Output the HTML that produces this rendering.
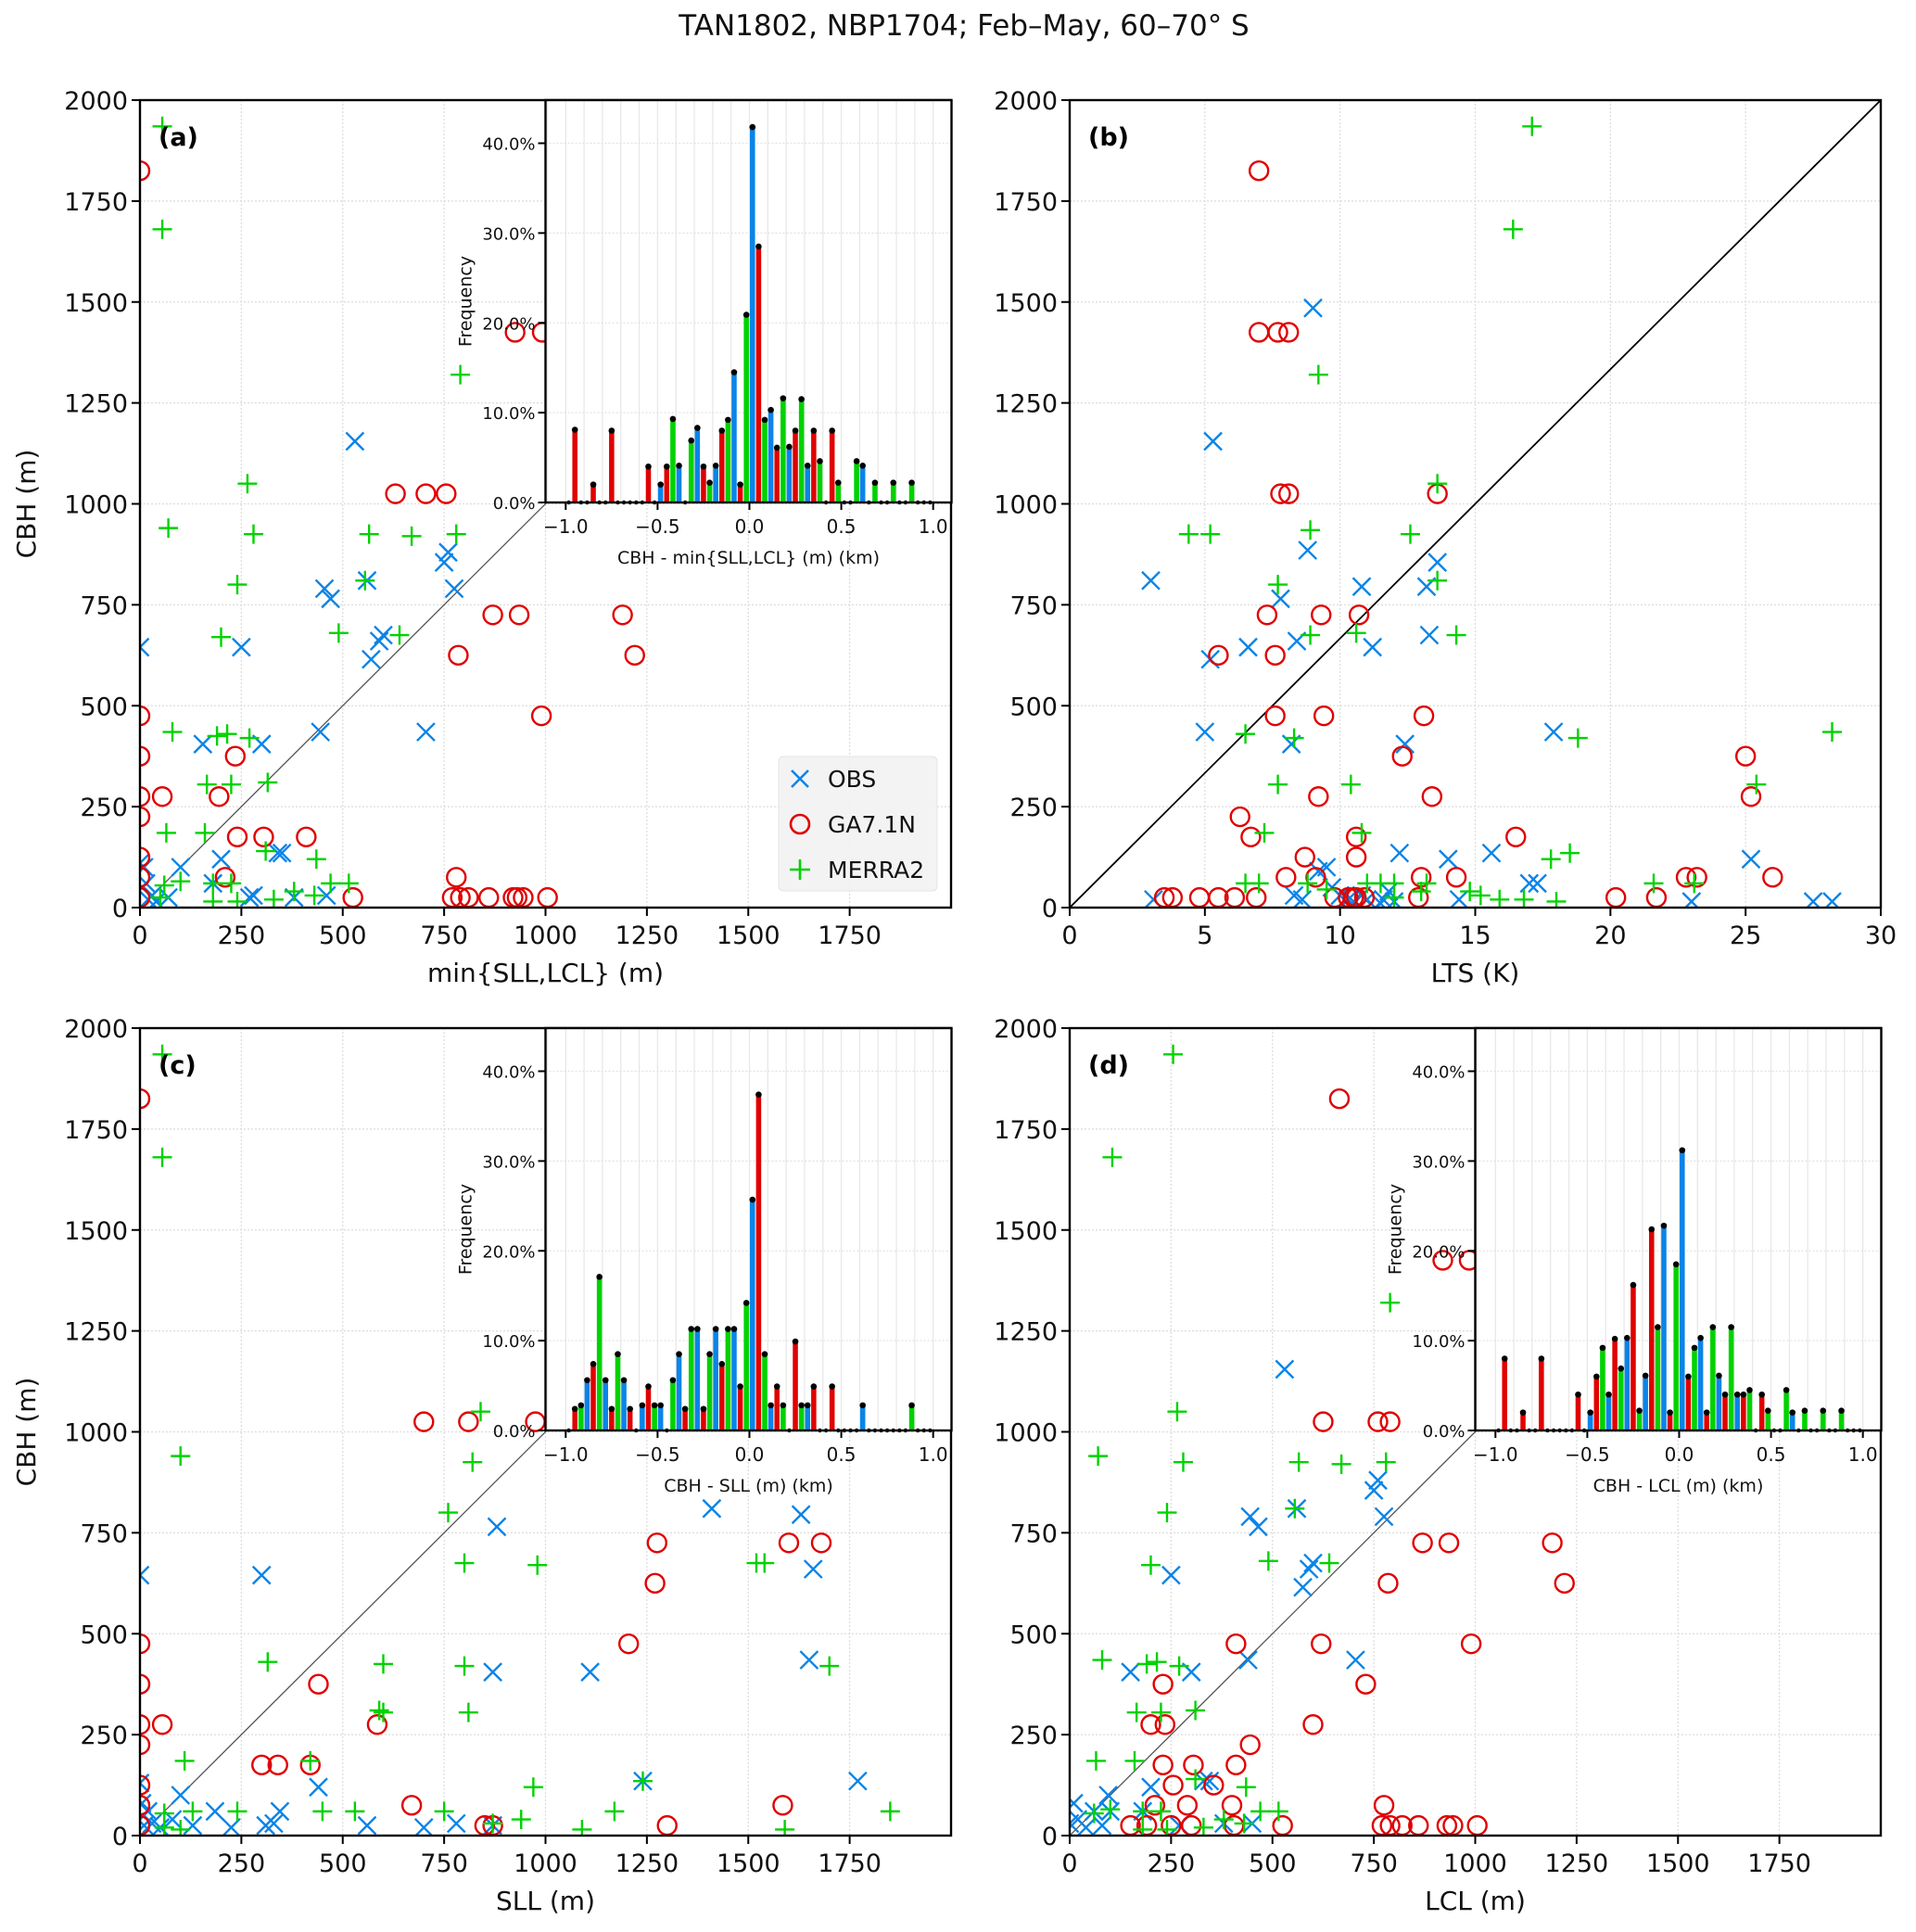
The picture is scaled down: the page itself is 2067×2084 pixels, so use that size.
<!DOCTYPE html>
<html><head><meta charset="utf-8"><style>
html,body{margin:0;padding:0;background:#fff;}
svg{display:block;font-family:"DejaVu Sans","Liberation Sans",sans-serif;}
</style></head><body>
<svg id="fig" width="2067" height="2084" viewBox="0 0 2067 2084" xmlns="http://www.w3.org/2000/svg">
<rect width="2067" height="2084" fill="#fff"/>
<text x="1040" y="38" font-size="31" text-anchor="middle" fill="#111">TAN1802, NBP1704; Feb–May, 60–70° S</text>
</svg>
<script>
// ---------- scatter data (x, CBH) ----------
const aObsX=[0,155,250,300,445,455,470,530,560,570,590,600,705,750,760,775,200,340,350,100,270,280,380,460,70,30,10,5,20,40,15,180,0];
const aObsY=[645,405,645,405,435,790,765,1155,810,615,660,675,435,855,880,790,120,135,135,100,25,30,25,30,25,30,100,50,20,15,60,60,110];
const aGaX=[0,0,0,0,0,0,0,0,55,195,235,240,305,410,210,630,705,755,870,935,1190,785,1220,990,525,770,790,810,860,920,930,945,1005,780,925,992];
const aGaY=[1825,475,375,275,225,125,75,25,275,275,375,175,175,175,75,1025,1025,1025,725,725,725,625,625,475,25,25,25,25,25,25,25,25,25,75,1425,1425];
const aMeX=[55,55,70,265,280,240,200,790,565,670,780,555,490,640,80,190,215,270,165,225,315,65,160,310,435,180,225,60,100,470,515,330,380,240,180,50,430];
const aMeY=[1935,1680,940,1050,925,800,670,1320,925,920,925,810,680,675,435,425,430,420,305,305,310,185,185,140,120,60,60,55,65,60,60,20,40,15,15,25,30];

const bObsX=[3.0,5.3,9.0,8.8,8.4,7.8,10.8,11.2,13.2,13.6,13.3,12.4,8.2,5.0,5.2,6.6,17.9,25.2,15.6,14.0,12.2,17.3,3.1,8.3,8.6,9.2,9.5,10.0,10.3,10.5,11.0,11.6,11.8,12.0,14.4,23.0,27.5,28.2,9.7,10.8,11.5,17.0];
const bObsY=[810,1155,1485,885,660,765,795,645,795,855,675,405,405,435,615,645,435,120,135,120,135,60,20,30,20,90,100,30,20,15,20,20,40,15,20,15,15,15,50,30,10,60];
const bGaX=[7.0,7.0,7.7,8.1,7.8,8.1,13.6,7.3,9.3,10.7,5.5,7.6,7.6,9.4,13.1,9.2,13.4,6.3,6.7,10.6,16.5,12.3,8.7,10.6,9.1,13.0,22.8,23.2,14.3,26.0,25.0,25.2,3.5,3.8,4.8,5.5,6.1,6.9,9.8,10.3,10.6,10.9,12.9,20.2,21.7,8.0,10.5];
const bGaY=[1825,1425,1425,1425,1025,1025,1025,725,725,725,625,625,475,475,475,275,275,225,175,175,175,375,125,125,75,75,75,75,75,75,375,275,25,25,25,25,25,25,25,25,25,25,25,25,25,75,25];
const bMeX=[17.1,16.4,9.2,13.6,4.4,5.2,8.9,12.6,7.7,13.6,8.9,10.6,14.3,6.5,8.3,18.8,28.2,7.7,10.4,25.4,10.8,7.2,17.8,18.5,13.2,21.6,23.1,6.5,7.0,8.8,11.0,11.5,12.0,9.5,15.2,15.9,14.8,16.8,18.0,12.0,13.0];
const bMeY=[1935,1680,1320,1050,925,925,935,925,800,810,675,680,675,430,420,420,435,305,305,305,185,185,120,135,60,60,60,60,60,60,60,60,60,45,30,20,40,20,15,25,40];

const cObsX=[0,300,880,1410,1630,1660,1650,870,1110,440,1240,1770,100,185,345,310,560,700,780,10,30,20,0,5,50,80,130,225,330,870];
const cObsY=[645,645,765,810,795,660,435,405,405,120,135,135,100,60,60,25,25,20,30,25,30,60,130,80,20,40,25,20,30,25];
const cGaX=[0,0,0,0,0,0,0,0,55,300,340,420,440,585,700,810,975,1275,1600,1680,1270,1205,670,1585,850,870,1300];
const cGaY=[1825,475,375,275,225,125,75,25,275,175,175,175,375,275,1025,1025,1025,725,725,725,625,475,75,75,25,25,25];
const cMeX=[55,55,100,840,760,820,800,980,1520,1540,315,600,800,1700,600,810,110,420,590,1240,970,1590,1850,1090,1170,940,870,750,450,530,240,130,60,60,100];
const cMeY=[1935,1680,940,1050,800,925,675,670,675,675,430,425,420,420,305,305,185,185,310,135,120,15,60,15,60,40,30,60,60,60,60,60,55,20,15];

const dObsX=[530,560,575,590,600,750,760,775,445,465,440,250,150,300,705,200,330,345,95,270,380,450,0,20,40,60,80,100,10,180];
const dObsY=[1155,810,615,660,675,855,880,790,790,765,435,645,405,405,435,120,135,135,100,25,30,30,30,40,20,60,25,60,80,60];
const dGaX=[665,920,985,625,760,790,870,935,1190,785,1220,990,410,620,730,230,600,200,235,445,230,305,410,255,355,210,290,400,775,150,190,250,300,405,525,770,790,820,860,930,945,1005];
const dGaY=[1825,1425,1425,1025,1025,1025,725,725,725,625,625,475,475,475,375,375,275,275,275,225,175,175,175,125,125,75,75,75,75,25,25,25,25,25,25,25,25,25,25,25,25,25];
const dMeX=[255,105,790,265,70,280,565,670,780,240,555,200,490,640,80,190,215,270,165,225,310,65,160,310,435,180,225,60,100,470,515,330,380,240,180,430];
const dMeY=[1935,1680,1320,1050,940,925,925,920,925,800,810,670,680,675,435,425,430,420,305,305,310,185,185,140,120,60,60,55,65,60,60,20,40,15,15,30];

// ---------- histogram data (% per 0.1 km bin, bins -1.0 .. 0.9) ----------
const binStarts=[-1.0,-0.9,-0.8,-0.7,-0.6,-0.5,-0.4,-0.3,-0.2,-0.1,0.0,0.1,0.2,0.3,0.4,0.5,0.6,0.7,0.8,0.9];
const hAObs=[0,0,0,0,0,2.0,4.1,8.3,4.1,14.5,41.8,10.3,6.2,4.1,0,0,4.1,0,0,0];
const hAGa =[8.1,2.0,8.0,0,4.0,4.0,0,4.0,8.0,2.0,28.5,6.1,8.0,8.0,8.0,0,0,0,0,0];
const hAMe =[0,0,0,0,0,9.3,6.9,2.2,9.2,20.9,9.2,11.6,11.5,4.6,2.2,4.6,2.2,2.2,2.2,0];
const hCObs=[0,5.6,5.6,5.6,2.8,2.8,8.5,11.3,11.3,11.3,25.7,2.8,0,2.8,0,0,2.8,0,0,0];
const hCGa =[2.4,7.4,2.4,2.4,4.9,0,2.4,2.4,7.4,4.9,37.4,4.9,9.9,4.9,4.9,0,0,0,0,0];
const hCMe =[2.8,17.1,8.5,0,2.8,5.6,11.3,8.5,11.3,14.2,8.5,2.8,2.8,0,0,0,0,0,2.8,0];
const hDObs=[0,0,0,0,0,2.0,4.0,10.3,6.1,22.8,31.2,10.3,6.1,4.0,0,0,2.0,0,0,0];
const hDGa =[8.0,2.0,8.0,0,4.0,6.0,10.2,16.2,22.4,2.0,6.0,2.0,4.0,4.0,4.0,0,0,0,0,0];
const hDMe =[0,0,0,0,0,9.2,6.9,2.2,11.5,18.5,9.2,11.5,11.5,4.5,2.2,4.5,2.2,2.2,2.2,0];

const xTicksM=[0,250,500,750,1000,1250,1500,1750];
const yTicksM=[0,250,500,750,1000,1250,1500,1750,2000];
const xTicksLTS=[0,5,10,15,20,25,30];
const xTicksH=[-1.0,-0.5,0.0,0.5,1.0];
const yTicksH=[0,10,20,30,40];

const NS='http://www.w3.org/2000/svg';
const svg=document.getElementById('fig');
const BLUE='#0a84e8',RED='#e00000',GREEN='#00d200';
function mk(tag,attrs,parent){const e=document.createElementNS(NS,tag);for(const k in attrs)e.setAttribute(k,attrs[k]);(parent||svg).appendChild(e);return e;}
const W=875,H=871;

function panel(key,L,T,xmax,xTicks,xlabel,ylabel,obsX,obsY,gaX,gaY,meX,meY,diagColor,diagW){
  const g=mk('g',{});
  
  
  const sx=v=>L+v/xmax*W, sy=v=>T+H-v/2000*H;
  xTicks.forEach(t=>{const l=mk('line',{x1:sx(t),x2:sx(t),y1:T,y2:T+H,stroke:'#dcdcdc','stroke-width':1.2,'stroke-dasharray':'2,2'},g);
    });
  yTicksM.forEach(t=>{const l=mk('line',{x1:L,x2:L+W,y1:sy(t),y2:sy(t),stroke:'#dcdcdc','stroke-width':1.2,'stroke-dasharray':'2,2'},g);
    });
  const cid='clip'+key;
  const cp=mk('clipPath',{id:cid},g);mk('rect',{x:L,y:T,width:W,height:H},cp);
  const pg=mk('g',{'clip-path':'url(#'+cid+')'},g);
  const dl=mk('line',{x1:sx(0),y1:sy(0),x2:sx(xmax),y2:sy(2000),stroke:diagColor,'stroke-width':diagW},pg);
  
  obsX.forEach((v,i)=>{const x=sx(v),y=sy(obsY[i]),r=9.5;
    const p=mk('path',{d:`M${x-r},${y-r}L${x+r},${y+r}M${x-r},${y+r}L${x+r},${y-r}`,stroke:BLUE,'stroke-width':2.4,fill:'none'},pg);
    });
  gaX.forEach((v,i)=>{const c=mk('circle',{cx:sx(v),cy:sy(gaY[i]),r:10,stroke:RED,'stroke-width':2.4,fill:'none'},pg);
    });
  meX.forEach((v,i)=>{const x=sx(v),y=sy(meY[i]),r=10.5;
    const p=mk('path',{d:`M${x-r},${y}L${x+r},${y}M${x},${y-r}L${x},${y+r}`,stroke:GREEN,'stroke-width':2.4,fill:'none'},pg);
    });
  const fr=mk('rect',{x:L,y:T,width:W,height:H,fill:'none',stroke:'#000','stroke-width':2.4},g);
  
  xTicks.forEach(t=>{mk('line',{x1:sx(t),x2:sx(t),y1:T+H,y2:T+H+9,stroke:'#000','stroke-width':2},g);
    const tx=mk('text',{x:sx(t),y:T+H+39,'font-size':27,'text-anchor':'middle',fill:'#111'},g);tx.textContent=t;
    });
  yTicksM.forEach(t=>{mk('line',{x1:L-9,x2:L,y1:sy(t),y2:sy(t),stroke:'#000','stroke-width':2},g);
    const tx=mk('text',{x:L-13,y:sy(t)+10,'font-size':27,'text-anchor':'end',fill:'#111'},g);tx.textContent=t;
    });
  const xl=mk('text',{x:L+W/2,y:T+H+80,'font-size':28,'text-anchor':'middle',fill:'#111'},g);xl.textContent=xlabel;
  
  if(ylabel){const yl=mk('text',{x:0,y:0,'font-size':28,'text-anchor':'middle',fill:'#111',transform:`translate(38,${T+H/2}) rotate(-90)`},g);yl.textContent=ylabel;
    }
  const pl=mk('text',{x:L+20,y:T+49,'font-size':27,'font-weight':'bold',fill:'#000'},g);pl.textContent='('+key+')';
  
  return g;
}

function inset(key,L0,T0,hObs,hGa,hMe,xlabel){
  const L=L0+437.5,T=T0,IW=438,IH=434,xmin=-1.11,xmax=1.1,ymax=44.8;
  const g=mk('g',{});
  
  
  const sx=v=>L+(v-xmin)/(xmax-xmin)*IW, sy=v=>T+IH-v/ymax*IH;
  mk('rect',{x:L,y:T,width:IW,height:IH,fill:'#fff'},g);
  for(let k=-11;k<=11;k++){const l=mk('line',{x1:sx(k/10),x2:sx(k/10),y1:T,y2:T+IH,stroke:'#e8e8e8','stroke-width':1.3},g);
    }
  yTicksH.forEach(t=>{const l=mk('line',{x1:L,x2:L+IW,y1:sy(t),y2:sy(t),stroke:'#e2e2e2','stroke-width':1.2,'stroke-dasharray':'2,2'},g);
    });
  const series=[[hObs,BLUE,'obs'],[hGa,RED,'ga71n'],[hMe,GREEN,'merra2']];
  const bw=0.1/3;
  binStarts.forEach((b,i)=>{series.forEach((s,j)=>{
    const c=b+bw*(j+0.5), v=s[0][i];
    const x0=sx(c-bw*0.42), x1=sx(c+bw*0.42);
    if(v>0){const r=mk('rect',{x:x0,y:sy(v),width:x1-x0,height:sy(0)-sy(v),fill:s[1]},g);
      }
    const d=mk('circle',{cx:sx(c),cy:sy(v),r:v>0?3.3:2.2,fill:'#000'},g);
    
  });});
  mk('rect',{x:L,y:T,width:IW,height:IH,fill:'none',stroke:'#000','stroke-width':2.4},g);
  xTicksH.forEach(t=>{mk('line',{x1:sx(t),x2:sx(t),y1:T+IH,y2:T+IH+8,stroke:'#000','stroke-width':2},g);
    const tx=mk('text',{x:sx(t),y:T+IH+33,'font-size':20,'text-anchor':'middle',fill:'#111'},g);
    tx.textContent=(t<0?'−':'')+Math.abs(t).toFixed(1);
    });
  yTicksH.forEach(t=>{mk('line',{x1:L-8,x2:L,y1:sy(t),y2:sy(t),stroke:'#000','stroke-width':2},g);
    const tx=mk('text',{x:L-11,y:sy(t)+7,'font-size':18,'text-anchor':'end',fill:'#111'},g);tx.textContent=t.toFixed(1)+'%';
    });
  const xl=mk('text',{x:L+IW/2,y:T+IH+66,'font-size':19,'text-anchor':'middle',fill:'#111'},g);xl.textContent=xlabel;
  
  const yl=mk('text',{x:0,y:0,'font-size':19,'text-anchor':'middle',fill:'#111',transform:`translate(${L-80},${T+IH/2}) rotate(-90)`},g);yl.textContent='Frequency';
  
}

panel('a',151,108,2000,xTicksM,'min{SLL,LCL} (m)','CBH (m)',aObsX,aObsY,aGaX,aGaY,aMeX,aMeY,'#555',1.3);
inset('a',151,108,hAObs,hAGa,hAMe,'CBH - min{SLL,LCL} (m) (km)');
panel('b',1154,108,30,xTicksLTS,'LTS (K)',null,bObsX,bObsY,bGaX,bGaY,bMeX,bMeY,'#000',1.8);
panel('c',151,1109,2000,xTicksM,'SLL (m)','CBH (m)',cObsX,cObsY,cGaX,cGaY,cMeX,cMeY,'#555',1.3);
inset('c',151,1109,hCObs,hCGa,hCMe,'CBH - SLL (m) (km)');
panel('d',1154,1109,2000,xTicksM,'LCL (m)',null,dObsX,dObsY,dGaX,dGaY,dMeX,dMeY,'#555',1.3);
inset('d',1154,1109,hDObs,hDGa,hDMe,'CBH - LCL (m) (km)');

const lg=mk('g',{});


mk('rect',{x:840,y:816,width:171,height:145,rx:5,fill:'#f2f2f2','fill-opacity':0.9,stroke:'#e4e4e4'},lg);
const entries=[['OBS',BLUE,'x'],['GA7.1N',RED,'o'],['MERRA2',GREEN,'+']];
entries.forEach((e,i)=>{const y=840+i*49,x=863,r=9;
  const eg=mk('g',{},lg);
  
  
  if(e[2]==='x')mk('path',{d:`M${x-r},${y-r}L${x+r},${y+r}M${x-r},${y+r}L${x+r},${y-r}`,stroke:e[1],'stroke-width':2.6},eg);
  if(e[2]==='o')mk('circle',{cx:x,cy:y,r:10,stroke:e[1],'stroke-width':2.6,fill:'none'},eg);
  if(e[2]==='+')mk('path',{d:`M${x-11},${y}L${x+11},${y}M${x},${y-11}L${x},${y+11}`,stroke:e[1],'stroke-width':2.6},eg);
  const t=mk('text',{x:893,y:y+9,'font-size':25,fill:'#111'},eg);t.textContent=e[0];
});
</script>
</body></html>
